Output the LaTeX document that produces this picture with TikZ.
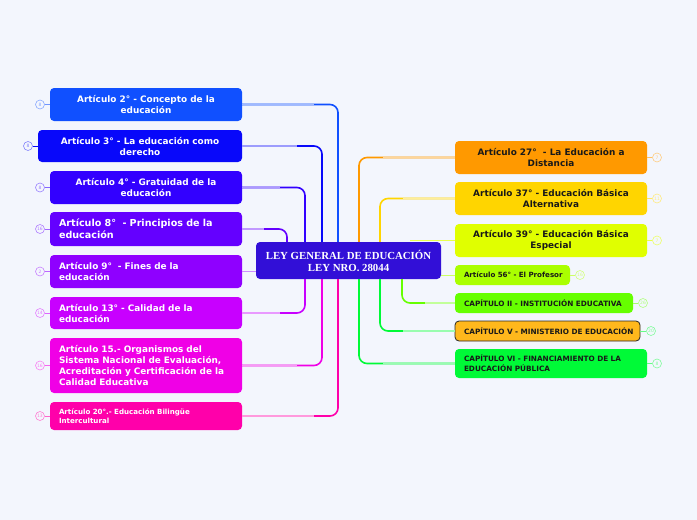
\documentclass[tikz,border=0pt]{standalone}
\usepackage{fontspec}
\setmainfont{DejaVu Sans}
\newfontfamily\titlefont{Liberation Serif}
\usetikzlibrary{calc}
\definecolor{bg}{RGB}{243,246,253}
\definecolor{cA}{RGB}{16,80,255}
\definecolor{cB}{RGB}{8,8,250}
\definecolor{cC}{RGB}{50,0,255}
\definecolor{cD}{RGB}{100,0,255}
\definecolor{cE}{RGB}{143,0,255}
\definecolor{cF}{RGB}{200,0,255}
\definecolor{cG}{RGB}{240,0,230}
\definecolor{cH}{RGB}{255,0,170}
\definecolor{cCenter}{RGB}{50,15,215}
\definecolor{rA}{RGB}{255,153,0}
\definecolor{rB}{RGB}{255,213,0}
\definecolor{rC}{RGB}{224,255,0}
\definecolor{rD}{RGB}{170,255,0}
\definecolor{rE}{RGB}{102,255,0}
\definecolor{rF}{RGB}{255,184,28}
\definecolor{rG}{RGB}{0,250,55}
\tikzset{
  box/.style={rounded corners=4pt, inner ysep=2pt, font=\bfseries, text=white},
  lbox/.style={box, inner xsep=9pt, align=left},
  cbox/.style={box, inner xsep=6pt, align=center},
  rbox/.style={box, text={black!90}, inner xsep=9pt},
  conn/.style={line width=1.6pt, rounded corners=8pt},
  badge/.style={circle, draw, line width=0.6pt, fill=bg, minimum size=9pt, inner sep=0pt, font=\fontsize{4.5}{5}\selectfont},
  blink/.style={line width=1pt},
  big/.style={font=\bfseries\fontsize{8.9}{11}\selectfont},
  small/.style={font=\bfseries\fontsize{7.1}{9}\selectfont},
  caps/.style={font=\bfseries\fontsize{7.3}{10}\selectfont},
}
\begin{document}
\begin{tikzpicture}[x=1pt,y=-1pt]
\fill[bg] (0,0) rectangle (697,520);
\useasboundingbox (0,0) rectangle (697,520);
% x positions
\coordinate (x287) at (287,0);
\coordinate (x305) at (305,0);
\coordinate (x322) at (322,0);
\coordinate (x338) at (338,0);
\coordinate (x359) at (359,0);
\coordinate (x380) at (380,0);
\coordinate (x402) at (402,0);
\coordinate (x410) at (410,0);
% center
\node[box, fill=cCenter, minimum width=185pt, minimum height=37pt, align=center, font=\titlefont\bfseries\fontsize{10.8}{12}\selectfont] (center) at (348.5,260.5) {LEY GENERAL DE EDUCACIÓN\\LEY NRO. 28044};
% left nodes
\node[cbox, big, fill=cA, minimum width=192pt, minimum height=33pt] (L1) at (146,104.5) {Artículo 2° - Concepto de la\\educación};
\node[cbox, big, fill=cB, minimum width=204pt, minimum height=32pt] (L2) at (140,146) {Artículo 3° - La educación como\\derecho};
\node[cbox, big, fill=cC, minimum width=192pt, minimum height=33pt] (L3) at (146,187.5) {Artículo 4° - Gratuidad de la\\educación};
\node[lbox, fill=cD, minimum width=192pt, minimum height=34pt, text width=174pt, font=\bfseries\fontsize{9.6}{12}\selectfont] (L4) at (146,229) {Artículo 8°~~- Principios de la\\educación};
\node[lbox, big, fill=cE, minimum width=192pt, minimum height=33pt, text width=174pt] (L5) at (146,271.5) {Artículo 9°~~- Fines de la\\educación};
\node[lbox, big, fill=cF, minimum width=192pt, minimum height=32pt, text width=174pt] (L6) at (146,313) {Artículo 13° - Calidad de la\\educación};
\node[lbox, big, fill=cG, minimum width=192pt, minimum height=55pt, text width=174pt] (L7) at (146,365.5) {Artículo 15.- Organismos del\\Sistema Nacional de Evaluación,\\Acreditación y Certificación de la\\Calidad Educativa};
\node[lbox, small, fill=cH, minimum width=192pt, minimum height=28pt, text width=174pt] (L8) at (146,416) {Artículo 20°.- Educación Bilingüe\\Intercultural};
% right nodes
\node[rbox, big, align=center, fill=rA, minimum width=192pt, minimum height=33pt] (R1) at (551,157.5) {Artículo 27°~~- La Educación a\\Distancia};
\node[rbox, big, align=center, fill=rB, minimum width=192pt, minimum height=33pt] (R2) at (551,198.5) {Artículo 37° - Educación Básica\\Alternativa};
\node[rbox, big, align=center, fill=rC, minimum width=192pt, minimum height=33pt] (R3) at (551,240.5) {Artículo 39° - Educación Básica\\Especial};
\node[rbox, small, align=left, fill=rD, minimum width=115pt, minimum height=20pt, text width=97pt] (R4) at (512.5,275) {\mbox{Artículo 56° - El Profesor}};
\node[rbox, caps, align=left, fill=rE, minimum width=178pt, minimum height=20pt, text width=160pt] (R5) at (544,303) {\mbox{CAPÍTULO II - INSTITUCIÓN EDUCATIVA}};
\node[rbox, caps, align=left, fill=rF, draw=black!85, line width=0.8pt, minimum width=185pt, minimum height=20pt, text width=167pt] (R6) at (547.5,331) {\mbox{CAPÍTULO V - MINISTERIO DE EDUCACIÓN}};
\node[rbox, caps, align=left, fill=rG, minimum width=192pt, minimum height=29pt, text width=174pt] (R7) at (551,363.5) {CAPÍTULO VI - FINANCIAMIENTO DE LA\\EDUCACIÓN PÚBLICA};
% connectors left
\draw[conn, cA] (center.north -| x338) |- (L1.east);
\draw[conn, cB] (center.north -| x322) |- (L2.east);
\draw[conn, cC] (center.north -| x305) |- (L3.east);
\draw[conn, cD] (center.north -| x287) |- (L4.east);
\draw[conn, cE!45!white] (L5.east) -- (center.west |- L5.east);
\draw[conn, cF] (center.south -| x305) |- (L6.east);
\draw[conn, cG] (center.south -| x322) |- (L7.east);
\draw[conn, cH] (center.south -| x338) |- (L8.east);
% connectors right
\draw[conn, rA] (center.north -| x359) |- (R1.west);
\draw[conn, rB] (center.north -| x380) |- (R2.west);
\draw[conn, rC!70!white, line width=1pt] (R3.west -| x410) -- (R3.west);
\draw[conn, rD!60!white, line width=1pt] (center.east |- R4.west) -- (R4.west);
\draw[conn, rE] (center.south -| x402) |- (R5.west);
\draw[conn, rG] (center.south -| x380) |- (R6.west);
\draw[conn, rG] (center.south -| x359) |- (R7.west);
% lighter horizontal overlays
\draw[line width=1.6pt, cA!40!white] (L1.east) -- ++(72,0);
\draw[line width=1.6pt, cB!40!white] (L2.east) -- ++(55,0);
\draw[line width=1.6pt, cC!40!white] (L3.east) -- ++(38,0);
\draw[line width=1.6pt, cD!40!white] (L4.east) -- ++(22,0);
\draw[line width=1.6pt, cF!40!white] (L6.east) -- ++(38,0);
\draw[line width=1.6pt, cG!40!white] (L7.east) -- ++(55,0);
\draw[line width=1.6pt, cH!40!white] (L8.east) -- ++(72,0);
\draw[line width=1.6pt, rA!40!white] (R1.west) -- ++(-72,0);
\draw[line width=1.6pt, rB!40!white] (R2.west) -- ++(-52,0);
\draw[line width=1.6pt, rE!40!white] (R5.west) -- ++(-30,0);
\draw[line width=1.6pt, rG!40!white] (R6.west) -- ++(-52,0);
\draw[line width=1.6pt, rG!40!white] (R7.west) -- ++(-72,0);
% badges left
\node[badge, draw=cA!50!white, text=cA!50!white] (b1) at (40,104.5) {8};
\node[badge, draw=cB!50!white, text=cB!50!white] (b2) at (28,146) {8};
\node[badge, draw=cC!50!white, text=cC!50!white] (b3) at (40,187.5) {8};
\node[badge, draw=cD!50!white, text=cD!50!white] (b4) at (40,229) {16};
\node[badge, draw=cE!50!white, text=cE!50!white] (b5) at (40,271.5) {2};
\node[badge, draw=cF!50!white, text=cF!50!white] (b6) at (40,313) {14};
\node[badge, draw=cG!50!white, text=cG!50!white] (b7) at (40,365.5) {16};
\node[badge, draw=cH!50!white, text=cH!50!white] (b8) at (40,416) {13};
\draw[blink, cA!60!white] (b1) -- (L1);
\draw[blink, cB] (b2) -- (L2);
\draw[blink, cC!60!white] (b3) -- (L3);
\draw[blink, cD!60!white] (b4) -- (L4);
\draw[blink, cE!60!white] (b5) -- (L5);
\draw[blink, cF!60!white] (b6) -- (L6);
\draw[blink, cG!60!white] (b7) -- (L7);
\draw[blink, cH!60!white] (b8) -- (L8);
% badges right
\node[badge, draw=rA!50!white, text=rA!50!white] (c1) at (657,157.5) {7};
\node[badge, draw=rB!50!white, text=rB!50!white] (c2) at (657,198.5) {11};
\node[badge, draw=rC!60!white, text=rC!60!white] (c3) at (657,240.5) {7};
\node[badge, draw=rD!50!white, text=rD!50!white] (c4) at (580,275) {16};
\node[badge, draw=rE!50!white, text=rE!50!white] (c5) at (643,303) {26};
\node[badge, draw=rG!50!white, text=rG!50!white] (c6) at (651,331) {20};
\node[badge, draw=rG!50!white, text=rG!50!white] (c7) at (657,363.5) {8};
\draw[blink, rA!60!white] (c1) -- (R1);
\draw[blink, rB!60!white] (c2) -- (R2);
\draw[blink, rC!70!white] (c3) -- (R3);
\draw[blink, rD!60!white] (c4) -- (R4);
\draw[blink, rE!60!white] (c5) -- (R5);
\draw[blink, rG!60!white] (c6) -- (R6);
\draw[blink, rG!60!white] (c7) -- (R7);
\end{tikzpicture}
\end{document}
